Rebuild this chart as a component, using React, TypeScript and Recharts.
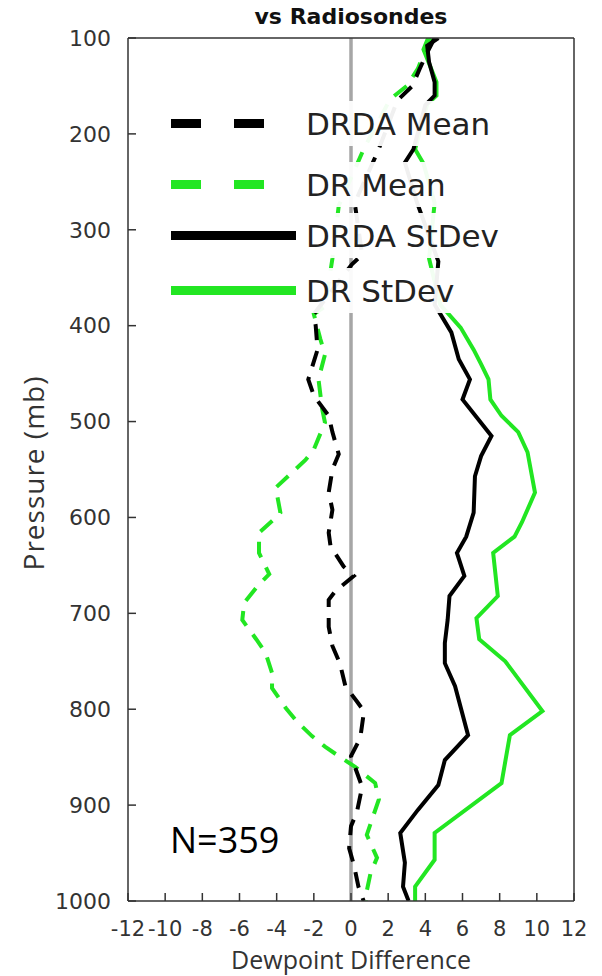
import { LineChart, Line, XAxis, YAxis, ReferenceLine, Legend } from 'recharts';

const xTicks = [-12, -10, -8, -6, -4, -2, 0, 2, 4, 6, 8, 10, 12];
const pressureTicks = [100, 200, 300, 400, 500, 600, 700, 800, 900, 1000];

// DRDA mean dewpoint difference by pressure level (mb)
const drdaMeanP = [100, 115, 132, 150, 165, 218, 272, 326, 336, 388, 400, 425, 456, 473, 494, 511, 534, 550, 574, 592, 616, 630, 651, 661, 677, 686, 714, 734, 752, 776, 792, 802, 830, 849, 866, 881, 907, 922, 945, 962, 985, 1000];
const drdaMeanV = [4.5, 4.1, 3.7, 3.3, 2.5, 1.45, 0.2, 0.6, 0.05, -2.0, -1.9, -1.8, -2.3, -2.0, -1.2, -1.0, -0.66, -1.0, -1.2, -1.0, -1.2, -1.1, -0.4, 0.15, -0.85, -1.2, -1.2, -1.0, -0.6, -0.3, 0.32, 0.7, 0.5, 0.0, 0.32, 0.6, 0.32, 0.0, -0.1, 0.15, 0.4, 0.68];

// DR mean
const drMeanP = [100, 115, 132, 150, 164, 216, 275, 330, 380, 388, 414, 430, 456, 487, 501, 529, 540, 569, 595, 602, 616, 637, 659, 672, 689, 707, 727, 741, 762, 778, 799, 813, 828, 839, 851, 860, 877, 894, 931, 955, 971, 994, 1000];
const drMeanV = [4.3, 3.95, 3.6, 3.0, 2.1, 0.68, -0.66, -1.0, -1.4, -2.0, -1.65, -1.4, -1.75, -1.55, -1.4, -2.0, -2.45, -4.05, -3.8, -4.15, -4.95, -4.95, -4.4, -5.05, -5.75, -5.85, -5.1, -4.6, -4.25, -4.25, -3.5, -2.9, -2.1, -1.4, -0.5, 0.22, 1.3, 1.5, 0.85, 1.4, 1.05, 0.8, 0.8];

// DRDA standard deviation
const drdaStdP = [100, 108, 125, 146, 160, 170, 216, 230, 271, 333, 378, 407, 435, 456, 477, 515, 536, 557, 595, 620, 637, 661, 682, 707, 731, 752, 776, 827, 853, 879, 905, 929, 960, 985, 1000];
const drdaStdV = [4.7, 4.1, 4.2, 4.5, 4.5, 4.0, 3.36, 2.9, 3.54, 4.7, 4.5, 5.4, 5.8, 6.4, 6.0, 7.56, 7.0, 6.67, 6.6, 6.2, 5.7, 6.1, 5.3, 5.2, 5.05, 5.05, 5.6, 6.3, 5.05, 4.7, 3.6, 2.65, 2.9, 2.8, 3.1];

// DR standard deviation
const drStdP = [100, 112, 129, 146, 160, 169, 216, 231, 272, 330, 378, 402, 425, 440, 456, 477, 494, 511, 532, 574, 605, 620, 637, 682, 705, 727, 750, 802, 827, 877, 929, 957, 985, 1000];
const drStdV = [4.15, 3.9, 4.25, 4.6, 4.6, 4.1, 3.45, 3.9, 4.5, 4.2, 4.8, 5.9, 6.6, 7.0, 7.4, 7.5, 8.1, 9.0, 9.5, 9.9, 9.2, 8.8, 7.65, 7.9, 6.75, 6.9, 8.3, 10.3, 8.55, 8.1, 4.5, 4.5, 3.45, 3.45];

const GREEN = '#22e622';
const INK = '#333';

const pairs = (p: number[], v: number[]) => p.map((pres, i) => ({ p: pres, v: v[i] }));

const series = [
  { name: 'DRDA Mean', data: pairs(drdaMeanP, drdaMeanV), color: '#000', dash: '16 11', legendDash: '30 33' },
  { name: 'DR Mean', data: pairs(drMeanP, drMeanV), color: GREEN, dash: '16 11', legendDash: '30 33' },
  { name: 'DRDA StDev', data: pairs(drdaStdP, drdaStdV), color: '#000', dash: undefined, legendDash: undefined },
  { name: 'DR StDev', data: pairs(drStdP, drStdV), color: GREEN, dash: undefined, legendDash: undefined },
];

// green curves go underneath the black ones
const drawOrder = [3, 1, 2, 0];

const rowTops = [0, 61, 112, 167];

function LegendBox() {
  return (
    <div style={{ position: 'relative', width: 380, height: 215 }}>
      {series.map((s, i) => (
        <div
          key={s.name}
          style={{
            position: 'absolute',
            left: 0,
            top: rowTops[i],
            height: 45,
            display: 'flex',
            alignItems: 'center',
            background: 'rgba(255,255,255,0.94)',
            paddingRight: 12,
            whiteSpace: 'nowrap',
          }}
        >
          <svg width={154} height={45}>
            <line x1={19} y1={22.5} x2={144} y2={22.5} stroke={s.color} strokeWidth={9} strokeDasharray={s.legendDash} />
          </svg>
          <span style={{ fontFamily: 'DejaVu Sans', fontSize: 31, color: '#222' }}>{s.name}</span>
        </div>
      ))}
    </div>
  );
}

export default function App() {
  return (
    <div style={{ position: 'absolute', left: 0, top: 0, background: '#fff' }}>
      <LineChart
        width={602}
        height={976}
        layout="vertical"
        margin={{ top: 37, right: 27, bottom: 0, left: 0 }}
      >
        <XAxis
          type="number"
          dataKey="v"
          domain={[-12, 12]}
          ticks={xTicks}
          interval={0}
          allowDataOverflow
          height={75}
          tickSize={-8}
          tickMargin={28}
          stroke={INK}
          strokeWidth={1.5}
          tick={{ fill: INK, fontSize: 21, fontFamily: 'DejaVu Sans' }}
        />
        <XAxis
          xAxisId="top"
          orientation="top"
          type="number"
          domain={[-12, 12]}
          ticks={xTicks}
          interval={0}
          height={1}
          tickSize={-8}
          stroke={INK}
          strokeWidth={1.5}
          tick={false}
        />
        <YAxis
          type="number"
          dataKey="p"
          domain={[100, 1000]}
          ticks={pressureTicks}
          interval={0}
          allowDataOverflow
          width={128}
          tickSize={-8}
          tickMargin={25}
          stroke={INK}
          strokeWidth={1.5}
          tick={{ fill: INK, fontSize: 22, fontFamily: 'DejaVu Sans' }}
        />
        <YAxis
          yAxisId="right"
          orientation="right"
          type="number"
          domain={[100, 1000]}
          ticks={pressureTicks}
          interval={0}
          width={1}
          tickSize={-8}
          stroke={INK}
          strokeWidth={1.5}
          tick={false}
        />
        <ReferenceLine x={0} stroke="#a6a6a6" strokeWidth={3.5} />
        {drawOrder.map((i) => {
          const s = series[i];
          return (
            <Line
              key={s.name}
              name={s.name}
              data={s.data}
              dataKey="v"
              type="linear"
              stroke={s.color}
              strokeWidth={4}
              strokeDasharray={s.dash}
              dot={false}
              activeDot={false}
              isAnimationActive={false}
            />
          );
        })}
        <Legend
          layout="horizontal"
          verticalAlign="middle"
          align="center"
          content={() => <LegendBox />}
          wrapperStyle={{ left: 152, top: 101, width: 380 }}
        />
        <text x={351} y={24} textAnchor="middle" fontFamily="DejaVu Sans" fontWeight="bold" fontSize={22} fill="#111">
          vs Radiosondes
        </text>
        <text
          x={33}
          y={473}
          transform="rotate(-90, 33, 473)"
          textAnchor="middle"
          dominantBaseline="central"
          fontFamily="Open Sans"
          fontSize={28}
          letterSpacing={1}
          fill={INK}
        >
          Pressure (mb)
        </text>
        <text x={351} y={969} textAnchor="middle" fontFamily="Open Sans" fontSize={25} fill={INK}>
          Dewpoint Difference
        </text>
        <text x={170} y={853} fontFamily="Open Sans" fontSize={36} fill="#000">
          N=359
        </text>
      </LineChart>
    </div>
  );
}
